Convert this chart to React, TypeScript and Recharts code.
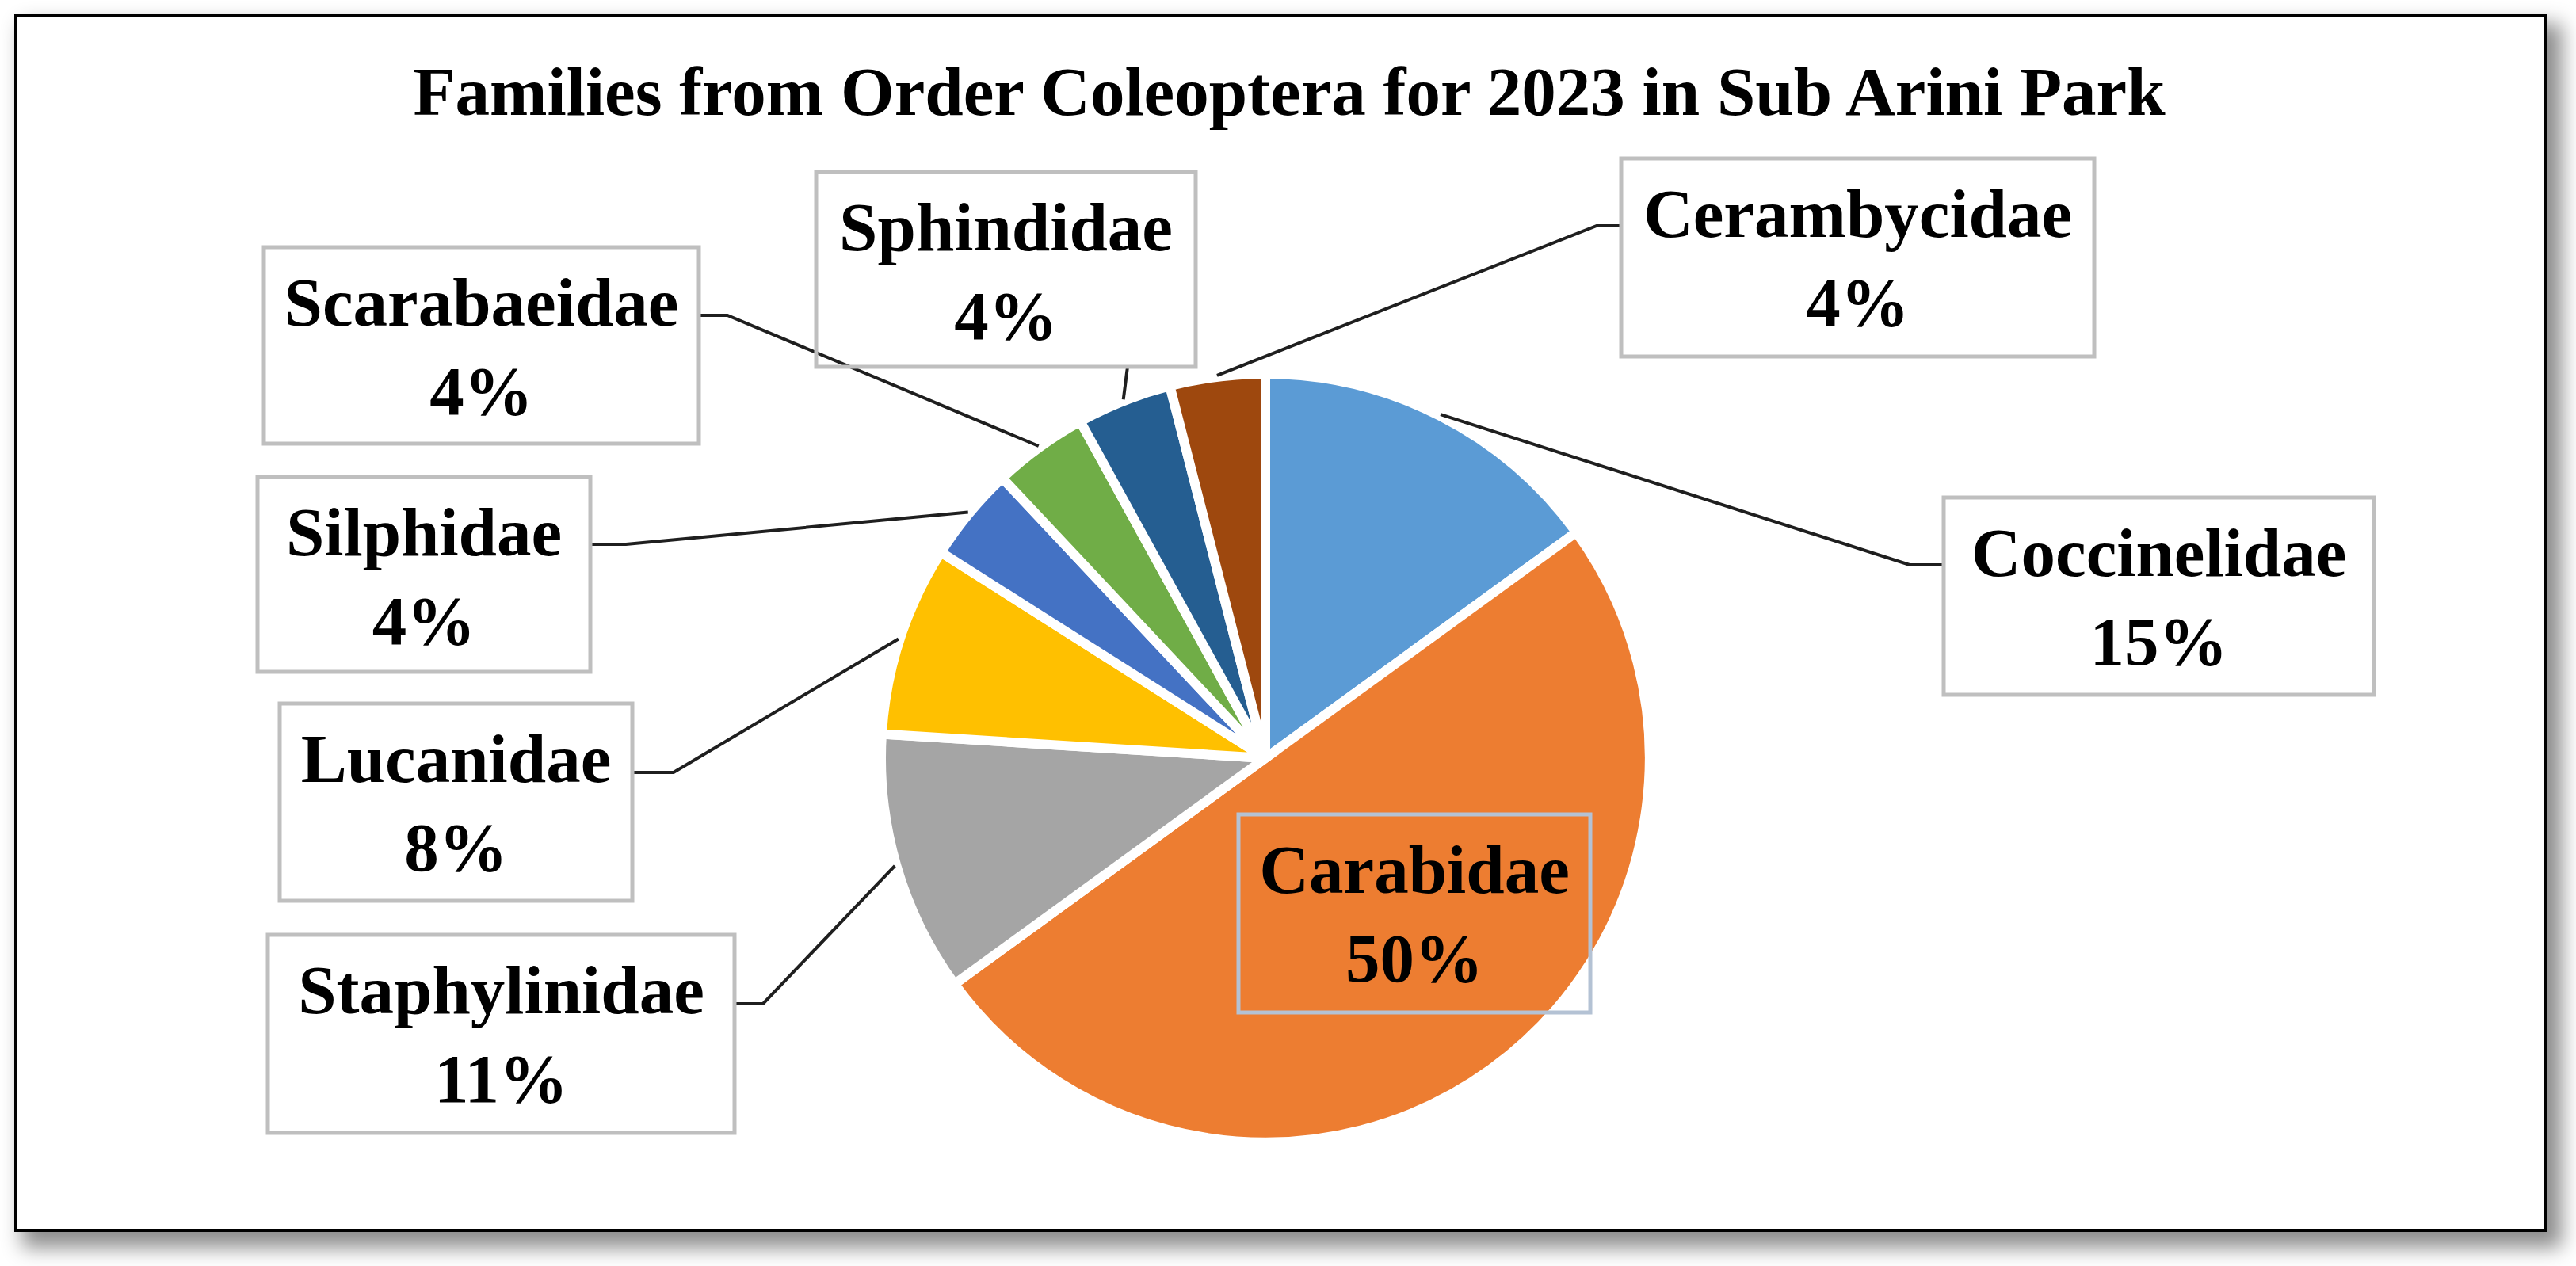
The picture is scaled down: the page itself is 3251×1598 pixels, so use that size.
import { PieChart, Pie, Cell } from "recharts";

const families = ["Coccinelidae", "Carabidae", "Staphylinidae", "Lucanidae", "Silphidae", "Scarabaeidae", "Sphindidae", "Cerambycidae"];
const shares = [15, 50, 11, 8, 4, 4, 4, 4];
const sliceColors = ["#5B9BD5", "#ED7D31", "#A5A5A5", "#FFC000", "#4472C4", "#70AD47", "#255E91", "#9E480E"];

const title = "Families from Order Coleoptera for 2023 in Sub Arini Park";

// label box placement (page pixels), same order as families
const labelBoxes = [
  { x: 2453, y: 628, w: 543, h: 249, anchor: [2453, 713], elbow: [2410, 713] },
  { x: 1563, y: 1028, w: 444, h: 250, inside: true },
  { x: 338, y: 1180, w: 589, h: 250, anchor: [927, 1267], elbow: [963, 1267] },
  { x: 353, y: 888, w: 445, h: 249, anchor: [798, 975], elbow: [850, 975] },
  { x: 325, y: 602, w: 420, h: 246, anchor: [745, 687], elbow: [790, 687] },
  { x: 333, y: 312, w: 549, h: 248, anchor: [882, 398], elbow: [918, 398] },
  { x: 1030, y: 217, w: 479, h: 246, anchor: [1423, 463], elbow: [1423, 463] },
  { x: 2046, y: 200, w: 597, h: 250, anchor: [2046, 285], elbow: [2015, 285] },
];

const W = 3251;
const H = 1598;
const FONT = "'Liberation Serif', 'Times New Roman', serif";
const RADIAN = Math.PI / 180;

const data = families.map((name, i) => ({ name, value: shares[i] }));

function renderLabel(props: any) {
  const { cx, cy, midAngle, outerRadius, index, name, value } = props;
  const box = labelBoxes[index];
  if (!box) return null;
  const r = outerRadius + 2;
  const ex = cx + r * Math.cos(-midAngle * RADIAN);
  const ey = cy + r * Math.sin(-midAngle * RADIAN);
  const tx = box.x + box.w / 2;
  return (
    <g key={`lbl-${index}`}>
      {!box.inside && (
        <polyline
          points={`${box.anchor![0]},${box.anchor![1]} ${box.elbow![0]},${box.elbow![1]} ${ex},${ey}`}
          fill="none"
          stroke="#1f1f1f"
          strokeWidth={4}
        />
      )}
      <rect
        x={box.x}
        y={box.y}
        width={box.w}
        height={box.h}
        fill="none"
        stroke={box.inside ? "#B4C2D4" : "#BFBFBF"}
        strokeWidth={5}
      />
      <text x={tx} y={box.y + 99} textAnchor="middle" fontFamily={FONT} fontWeight="bold" fontSize={87} fill="#000">
        {name}
      </text>
      <text x={tx} y={box.y + 211} textAnchor="middle" fontFamily={FONT} fontWeight="bold" fontSize={87} fill="#000">
        {`${value}%`}
      </text>
    </g>
  );
}

export default function App() {
  return (
    <div style={{ position: "absolute", left: 0, top: 0, width: W, height: H, background: "#fff", overflow: "hidden" }}>
      <div
        style={{
          position: "absolute",
          left: 18,
          top: 18,
          width: 3197,
          height: 1537,
          boxSizing: "border-box",
          border: "4px solid #000",
          background: "#fff",
          boxShadow: "14px 16px 24px 4px rgba(0,0,0,0.45)",
        }}
      />
      <div style={{ position: "absolute", left: 0, top: 0 }}>
        <PieChart width={W} height={H} margin={{ top: 0, right: 0, bottom: 0, left: 0 }}>
          <Pie
            data={data}
            dataKey="value"
            nameKey="name"
            cx={1597}
            cy={957}
            outerRadius={485}
            startAngle={90}
            endAngle={-270}
            stroke="#fff"
            strokeWidth={12}
            label={renderLabel}
            labelLine={false}
            isAnimationActive={false}
          >
            {data.map((entry, i) => (
              <Cell key={`cell-${i}`} fill={sliceColors[i]} />
            ))}
          </Pie>
        </PieChart>
      </div>
      <svg width={W} height={200} style={{ position: "absolute", left: 0, top: 0 }}>
        <text x={1627} y={145} textAnchor="middle" fontFamily={FONT} fontWeight="bold" fontSize={87} fill="#000">
          {title}
        </text>
      </svg>
    </div>
  );
}
